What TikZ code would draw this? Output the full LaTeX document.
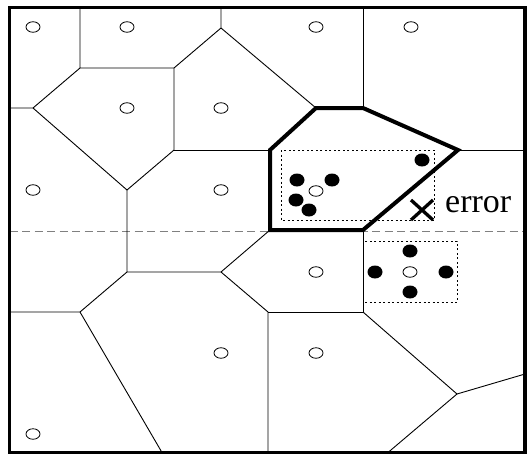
\documentclass[tikz,border=0pt]{standalone}
\usepackage{fontspec}
\setmainfont{Liberation Serif}
\usetikzlibrary{shapes.geometric}
\begin{document}
\begin{tikzpicture}[x=1pt,y=-1pt,
  edge/.style={line width=0.9pt},
  cellline/.style={line width=4pt, line join=miter},
  frameline/.style={line width=3.5pt},
  site/.style={draw, ellipse, minimum width=14pt, minimum height=10.5pt, inner sep=0pt, line width=0.8pt, fill=white},
  sample/.style={fill=black, ellipse, minimum width=15pt, minimum height=13pt, inner sep=0pt},
  boxline/.style={line width=0.8pt, dash pattern=on 2pt off 2.5pt},
  splitline/.style={gray, line width=1pt, dash pattern=on 8pt off 4.5pt}]
\useasboundingbox (0,0) rectangle (528,455);
% frame corners
\coordinate (TL) at (9.5,7.5);
\coordinate (BR) at (525,452.5);
% Voronoi vertices
\coordinate (A) at (80,68);
\coordinate (B) at (174,68);
\coordinate (C) at (221,28);
\coordinate (D) at (316,108);
\coordinate (D2) at (363,108);
\coordinate (P) at (458,150);
\coordinate (Q) at (363,230);
\coordinate (R) at (270,230);
\coordinate (S) at (270,150);
\coordinate (E) at (33,108);
\coordinate (F) at (127,190);
\coordinate (G) at (174,150);
\coordinate (H) at (127,272);
\coordinate (I) at (221,272);
\coordinate (J) at (268,312);
\coordinate (K) at (363,312);
\coordinate (L) at (457,394);
\coordinate (M) at (80,312);
% border end points
\coordinate (tA) at (80,7.5);
\coordinate (tC) at (221,7.5);
\coordinate (tD2) at (363,7.5);
\coordinate (lE) at (9.5,108);
\coordinate (lM) at (9.5,312);
\coordinate (rP) at (525,150);
\coordinate (rL) at (525,374);
\coordinate (bJ) at (268,452.5);
\coordinate (bL) at (388,452.5);
\coordinate (bM) at (162,452.5);
\coordinate (dl) at (9.5,231);
\coordinate (dr) at (525,231);
% dashed split line
\draw[splitline] (dl) -- (dr);
% thin Voronoi edges
\draw[edge] (tA) -- (A) -- (B) -- (C) -- (tC);
\draw[edge] (C) -- (D);
\draw[edge] (lE) -- (E) -- (A);
\draw[edge] (E) -- (F) -- (G) -- (B);
\draw[edge] (G) -- (S);
\draw[edge] (F) -- (H) -- (I) -- (R);
\draw[edge] (I) -- (J) -- (bJ);
\draw[edge] (J) -- (K) -- (Q);
\draw[edge] (K) -- (L) -- (rL);
\draw[edge] (L) -- (bL);
\draw[edge] (H) -- (M) -- (lM);
\draw[edge] (M) -- (bM);
\draw[edge] (D2) -- (tD2);
\draw[edge] (P) -- (rP);
% highlighted cell
\draw[cellline] (S) -- (D) -- (D2) -- (P) -- (Q) -- (R) -- cycle;
% dotted boxes
\coordinate (b1a) at (281,150);
\coordinate (b1b) at (434,220);
\coordinate (b2a) at (363,241);
\coordinate (b2b) at (457,302);
\draw[boxline] (b1a) rectangle (b1b);
\draw[boxline] (b2a) rectangle (b2b);
% frame
\draw[frameline] (TL) rectangle (BR);
% sites
\node[site] (s1) at (33,27) {};
\node[site] (s2) at (127,27) {};
\node[site] (s3) at (316,27) {};
\node[site] (s4) at (411,27) {};
\node[site] (s5) at (127,108) {};
\node[site] (s6) at (221,108) {};
\node[site] (s7) at (33,190) {};
\node[site] (s8) at (221,190) {};
\node[site] (s9) at (316,272) {};
\node[site] (s10) at (221,353) {};
\node[site] (s11) at (316,353) {};
\node[site] (s12) at (33,434) {};
% samples, cluster 1
\node[sample] (f1) at (422,160) {};
\node[sample] (f2) at (297,180) {};
\node[sample] (f3) at (332,180) {};
\node[sample] (f4) at (296,200) {};
\node[sample] (f5) at (309,210) {};
\node[site] (s13) at (316,191) {};
% samples, cluster 2
\node[sample] (f6) at (410,251) {};
\node[sample] (f7) at (375,272) {};
\node[sample] (f8) at (446,272) {};
\node[sample] (f9) at (410,292) {};
\node[site] (s14) at (410,272) {};
% error mark
\coordinate (x1) at (411,200);
\coordinate (x2) at (433,220);
\coordinate (x3) at (411,220);
\coordinate (x4) at (433,200);
\draw[line width=3.3pt] (x1) -- (x2);
\draw[line width=3.3pt] (x3) -- (x4);
\node[anchor=base west, inner sep=0pt, font=\fontsize{34}{34}\selectfont] (err) at (445,212) {error};
\end{tikzpicture}
\end{document}
